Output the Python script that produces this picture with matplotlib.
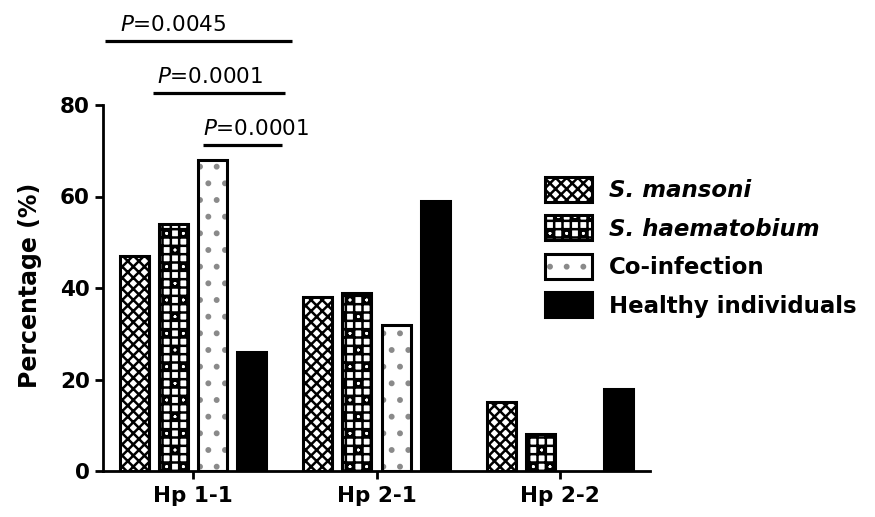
import matplotlib
matplotlib.use("Agg")
import matplotlib.pyplot as plt
from matplotlib.patches import Patch
from matplotlib.legend_handler import HandlerTuple
import numpy as np

categories = ["Hp 1-1", "Hp 2-1", "Hp 2-2"]
series = ["S. mansoni", "S. haematobium", "Co-infection", "Healthy individuals"]
s_mansoni = [47, 38, 15]
s_haematobium = [54, 39, 8]
co_infection = [68, 32, 0]
healthy = [26, 59, 18]
values = [s_mansoni, s_haematobium, co_infection, healthy]

# significance annotations
sig_x = [(-0.48, 0.54), (-0.22, 0.50), (0.055, 0.486)]
sig_y = [94.0, 82.6, 71.3]
sig_text_x = [-0.40, -0.197, 0.055]
sig_labels = ["0.0045", "0.0001", "0.0001"]

plt.rcParams['font.family'] = ['DejaVu Sans']
plt.rcParams['hatch.linewidth'] = 1.8

W, H = 875, 517
fig = plt.figure(figsize=(W / 100, H / 100), dpi=100)
ax = fig.add_axes([103 / W, 1 - 471 / H, 547 / W, 366 / H])

x = np.arange(len(categories))
pitch = 0.213
width = 0.158
offsets = (np.arange(4) - 1.5) * pitch

styles = [
    dict(face='white', hatch='xxx', hcolor='black'),
    dict(face='white', hatch='++o', hcolor='black'),
    dict(face='white', hatch='.', hcolor='#8a8a8a'),
    dict(face='black', hatch=None, hcolor='black'),
]

handles = []
for i, (vals, st) in enumerate(zip(values, styles)):
    if st['hatch']:
        ax.bar(x + offsets[i], vals, width, color=st['face'], hatch=st['hatch'],
               edgecolor=st['hcolor'], linewidth=0, zorder=2)
    top = ax.bar(x + offsets[i], vals, width, facecolor='none' if st['hatch'] else 'black',
                 edgecolor='black', linewidth=2.2, zorder=3)
    for p in top.patches:
        if p.get_height() == 0:
            p.set_visible(False)
    h1 = Patch(facecolor=st['face'], hatch=st['hatch'], edgecolor=st['hcolor'], linewidth=0)
    h2 = Patch(facecolor='none', edgecolor='black', linewidth=2.2)
    handles.append((h1, h2))

ax.set_xlim(-0.49, 2.49)
ax.set_ylim(0, 80)
ax.set_yticks([0, 20, 40, 60, 80])
ax.set_xticks(x)
ax.set_xticklabels(categories, fontsize=15.5, fontweight='bold')
for lab in ax.get_yticklabels():
    lab.set_fontsize(15.5)
    lab.set_fontweight('bold')
ax.set_ylabel("Percentage (%)", fontsize=17, fontweight='bold')
ax.yaxis.set_label_coords(-0.112, 0.508)
for s in ['top', 'right']:
    ax.spines[s].set_visible(False)
for s in ['left', 'bottom']:
    ax.spines[s].set_linewidth(2)
ax.tick_params(axis='both', width=2, length=6)
ax.tick_params(axis='x', pad=5)

for (x0, x1), yv, tx, lab in zip(sig_x, sig_y, sig_text_x, sig_labels):
    ax.plot([x0, x1], [yv, yv], color='black', linewidth=2.3, clip_on=False,
            solid_capstyle='butt')
    ax.text(tx, yv + 2.2, r"$\mathit{P}$" + "=0." + lab[2:], fontsize=15.5,
            ha='left', va='baseline', clip_on=False)

leg = fig.legend(handles, series, handler_map={tuple: HandlerTuple(ndivide=1, pad=0)},
                 loc='upper left', bbox_to_anchor=(545 / W, 1 - 177 / H), frameon=False,
                 fontsize=16.5, handlelength=2.07, handleheight=1.3, labelspacing=0.58,
                 handletextpad=0.72, borderaxespad=0, borderpad=0)
for t, name in zip(leg.get_texts(), series):
    t.set_fontweight('bold')
    if name.startswith("S."):
        t.set_fontstyle('italic')

fig.savefig("out.png", dpi=100)
